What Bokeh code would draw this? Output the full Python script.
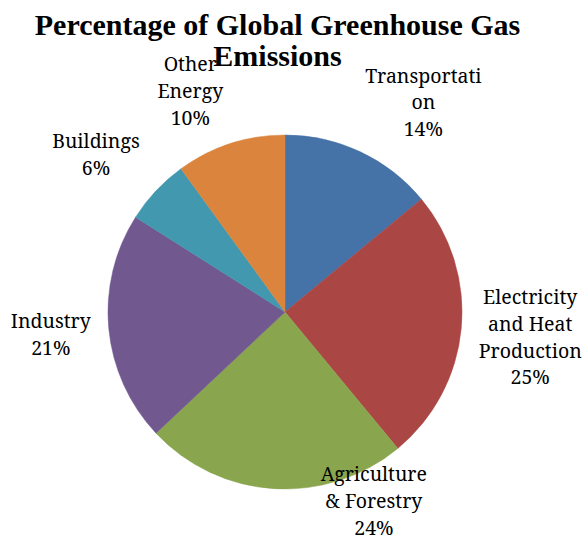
import math
from bokeh.plotting import figure
from bokeh.models import Range1d, ColumnDataSource, Label
from bokeh.embed import file_html
from bokeh.resources import INLINE

# ---- data ----
categories = ["Transportati\non", "Electricity\nand Heat\nProduction", "Agriculture\n& Forestry",
              "Industry", "Buildings", "Other\nEnergy"]
percents = [14, 25, 24, 21, 6, 10]
colors = ["#4572A7", "#AA4643", "#89A54E", "#71588F", "#4198AF", "#DB843D"]
title_text = "Percentage of Global Greenhouse Gas\nEmissions"

# ---- layout (screen-pixel offsets of labels from slice rim midpoint) ----
label_dx = [63, 69, 100, -58, -60, -40]
label_dy = [-50, 8, 12, 5, -37, -53]

W, H = 585, 539
cx, cy, R = 284.5, H - 311.5, 177

total = sum(percents)
starts, ends, lx, ly, texts = [], [], [], [], []
cum = 0.0
for pct, cat in zip(percents, categories):
    a0 = math.pi / 2 - 2 * math.pi * (cum + pct) / total
    a1 = math.pi / 2 - 2 * math.pi * cum / total
    starts.append(a0)
    ends.append(a1)
    mid = (a0 + a1) / 2
    lx.append(cx + R * math.cos(mid))
    ly.append(cy + R * math.sin(mid))
    texts.append(f"{cat}\n{pct}%")
    cum += pct

src = ColumnDataSource(dict(start=starts, end=ends, color=colors))

p = figure(width=W, height=H, x_range=Range1d(0, W), y_range=Range1d(0, H),
           output_backend="svg", toolbar_location=None, min_border=0)
p.axis.visible = False
p.grid.visible = False
p.outline_line_color = None
p.background_fill_color = "white"
p.border_fill_color = "white"

p.wedge(x=cx, y=cy, radius=R, start_angle="start", end_angle="end",
        fill_color="color", line_color="color", line_width=0.5, source=src)

for x, y, t, dx, dy in zip(lx, ly, texts, label_dx, label_dy):
    p.add_layout(Label(x=x, y=y, x_offset=dx, y_offset=-dy, text=t,
                       text_font="Noto Serif", text_font_size="19.5px",
                       text_align="center", text_baseline="middle",
                       text_line_height=0.99, text_color="black"))

p.add_layout(Label(x=277, y=H - 39.5, text=title_text,
                   text_font="Liberation Serif", text_font_size="30px",
                   text_font_style="bold", text_align="center",
                   text_baseline="middle", text_line_height=0.95, text_color="black"))

open("out.html", "w").write(file_html(p, INLINE))
